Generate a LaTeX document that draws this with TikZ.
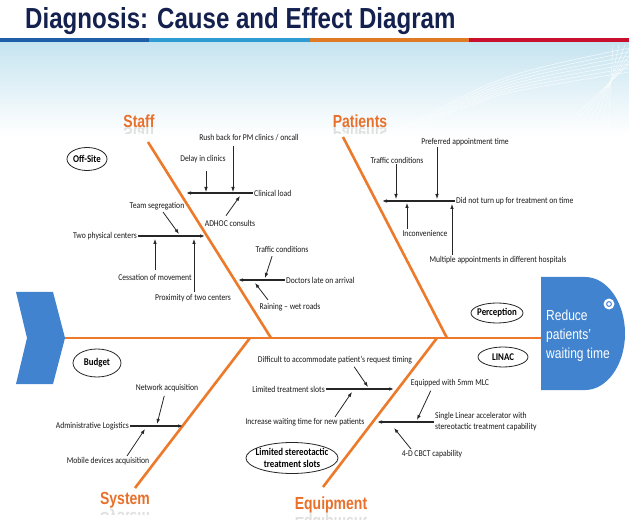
\documentclass[tikz,border=0pt]{standalone}
\usepackage{fontspec}
\usetikzlibrary{arrows.meta,shapes.geometric}
\newfontfamily\smallf{Carlito}[FakeStretch=0.86]
\newfontfamily\headf{Liberation Sans}[FakeStretch=0.83]
\newfontfamily\catf{Liberation Sans}[FakeStretch=0.8]
\newfontfamily\titlef{Liberation Sans}[FakeStretch=0.83]
\definecolor{navy}{HTML}{14214F}
\definecolor{stripeA}{HTML}{1F5FA8}
\definecolor{stripeB}{HTML}{2E9BD2}
\definecolor{stripeC}{HTML}{E07A25}
\definecolor{stripeD}{HTML}{C8102E}
\definecolor{bonecol}{HTML}{EC7A2A}
\definecolor{catcol}{HTML}{E8702A}
\definecolor{blueshape}{HTML}{4183CF}
\definecolor{bgblue}{HTML}{C6E4F0}
\newcommand\reflectlabel[2]{%
  \begin{scope}
    \clip (#1.south west) rectangle ([yshift=-6pt]#1.south east);
    \node[cat, text=black!12, anchor=north] at (#1.south) {\scalebox{1}[-1]{#2}};
  \end{scope}}
\tikzset{
  cause/.style={font=\smallf\fontsize{8.9}{11}\selectfont, inner sep=1pt, text=black!90},
  oval/.style={ellipse, draw=black!85, line width=0.8pt, inner xsep=-4pt, inner ysep=-1pt,
    font=\smallf\bfseries\fontsize{10.3}{11.5}\selectfont},
  cat/.style={font=\catf\bfseries\fontsize{17.5}{18}\selectfont, text=catcol, inner sep=0pt},
  bonestyle/.style={draw=bonecol, line width=2.6pt},
  arr/.style={-{Latex[length=5pt,width=3.6pt]}, line width=0.8pt, draw=black!85},
  hline/.style={arr, line width=1.1pt}
}
\begin{document}
\begin{tikzpicture}[x=1pt,y=-1pt]
\useasboundingbox (0,0) rectangle (629,529);
\fill[white] (0,0) rectangle (629,529);
% background band
\shade[top color=bgblue, bottom color=white] (0,42) rectangle (629,135);
\foreach \k in {0,...,6}{
  \draw[white, opacity=0.8, line width=0.5pt] (400+12*\k,130-4*\k) .. controls (500,75+3*\k) .. (629,48+4*\k);
  \draw[white, opacity=0.7, line width=0.5pt] (560+8*\k,130) -- (629-6*\k+20,45);
}
% stripe
\fill[stripeA] (0,38) rectangle (149,42);
\fill[stripeB] (149,38) rectangle (310,42);
\fill[stripeC] (310,38) rectangle (469,42);
\fill[stripeD] (469,38) rectangle (629,42);
% title
\node[anchor=base west, font=\titlef\bfseries\fontsize{29}{30}\selectfont, text=navy, inner sep=0pt] (title) at (25,28.5) {Diagnosis: Cause and Effect Diagram};

% tail chevron and head
\fill[blueshape] (16,292) -- (53,292) -- (65,338) -- (53,384) -- (16,384) -- (27,338) -- cycle;
\coordinate (chevtip) at (65,338);
\fill[blueshape] (541,277) -- (585,277) arc[start angle=-90, end angle=90, x radius=40, y radius=56.5] -- (541,390) -- cycle;
\coordinate (headW) at (541,338);
\fill[white] (609,304) circle (5.5);
\draw[blueshape, line width=1pt] (609,304) circle (2.4);
\node[anchor=base west, align=left, font=\headf\fontsize{14.5}{19}\selectfont, text=white, inner sep=0pt] (goal) at (546,358) {Reduce\\patients’\\waiting time};

% bones
\coordinate (staffA) at (148,142); \coordinate (staffB) at (271,338);
\coordinate (patA) at (343,137);   \coordinate (patB) at (447,338);
\coordinate (sysA) at (250,338);   \coordinate (sysB) at (135,488);
\coordinate (eqA) at (437,338);    \coordinate (eqB) at (323,487);
\draw[bonestyle] (chevtip) -- (headW);
\draw[bonestyle] (staffA) -- (staffB);
\draw[bonestyle] (patA) -- (patB);
\draw[bonestyle] (sysA) -- (sysB);
\draw[bonestyle] (eqA) -- (eqB);

% category labels
\node[cat] (staff) at (139,121) {Staff};
\node[cat] (patients) at (360,121) {Patients};
\node[cat] (system) at (125,500.5) {System};
\node[cat] (equipment) at (331,505) {Equipment};
\reflectlabel{staff}{Staff}
\reflectlabel{patients}{Patients}
\reflectlabel{system}{System}
\reflectlabel{equipment}{Equipment}

% ovals
\node[oval, minimum width=40pt, minimum height=23pt] (offsite) at (87,159) {Off-Site};
\node[oval, minimum width=52pt, minimum height=20pt] (perc) at (497,313) {Perception};
\node[oval, minimum width=50pt, minimum height=20pt] (linac) at (503,357) {LINAC};
\node[oval, minimum width=48pt, minimum height=28pt] (budget) at (97,363) {Budget};
\node[oval, minimum width=92pt, minimum height=31pt, align=center] (lss) at (292,458) {Limited stereotactic\\treatment slots};

% ---- Staff causes
\node[cause] (rush) at (249,138) {Rush back for PM clinics / oncall};
\node[cause] (delay) at (203,159) {Delay in clinics};
\node[cause, anchor=west] (clin) at (253,193) {Clinical load};
\node[cause] (adhoc) at (230,223) {ADHOC consults};
\node[cause] (team) at (157,206) {Team segregation};
\node[cause, anchor=east] (two) at (138,236) {Two physical centers};
\node[cause] (cess) at (155,277) {Cessation of movement};
\node[cause] (prox) at (193,298) {Proximity of two centers};
\node[cause] (traf1) at (282,249) {Traffic conditions};
\node[cause, anchor=west] (doc) at (285,280) {Doctors late on arrival};
\node[cause] (rain) at (290,307) {Raining – wet roads};
\coordinate (clinT) at (186,193);
\coordinate (rushT) at (233,192);
\coordinate (delayT) at (206,192);
\coordinate (adhocT) at (240,196);
\coordinate (teamT) at (179,234);
\coordinate (twoT) at (205,236);
\coordinate (cessT) at (155,239);
\coordinate (proxT) at (194,239);
\coordinate (docT) at (238,280);
\coordinate (traf1T) at (265,278);
\coordinate (rainT) at (255,283);
\draw[hline] (clin.west) -- (clinT);
\draw[arr, shorten <=4pt] (rush.south -| rushT) -- (rushT);
\draw[arr, shorten <=7pt] (delay.south -| delayT) -- (delayT);
\draw[arr] ([xshift=-4pt,yshift=3pt]adhoc.north) -- (adhocT);
\draw[arr] ([xshift=6pt,yshift=-1pt]team.south) -- (teamT);
\draw[hline] (two.east) -- (twoT);
\draw[arr, shorten <=3pt] (cess.north -| cessT) -- (cessT);
\draw[arr, shorten <=1pt] (prox.north -| proxT) -- (proxT);
\draw[hline] (doc.west) -- (docT);
\draw[arr, shorten <=3pt] ([xshift=-9pt]traf1.south) -- (traf1T);
\draw[arr] ([xshift=-22pt,yshift=2pt]rain.north) -- (rainT);

% ---- Patients causes
\node[cause] (pref) at (465,142) {Preferred appointment time};
\node[cause] (traf2) at (397,160) {Traffic conditions};
\node[cause, anchor=west] (didnot) at (455,201) {Did not turn up for treatment on time};
\node[cause] (incon) at (425,233) {Inconvenience};
\node[cause] (multi) at (498,260) {Multiple appointments in different hospitals};
\coordinate (prefT) at (437,199);
\coordinate (traf2T) at (396,199);
\coordinate (didT) at (382,201);
\coordinate (inconT) at (407,203);
\coordinate (multiT) at (452,204);
\draw[hline] (didnot.west) -- (didT);
\draw[arr] (pref.south -| prefT) -- (prefT);
\draw[arr] (traf2.south -| traf2T) -- (traf2T);
\draw[arr] (incon.north -| inconT) -- (inconT);
\draw[arr] (multi.north -| multiT) -- (multiT);

% ---- System causes
\node[cause] (net) at (167,388) {Network acquisition};
\node[cause, anchor=east] (admin) at (130,426) {Administrative Logistics};
\node[cause] (mobile) at (108,461) {Mobile devices acquisition};
\coordinate (netT) at (157,424);
\coordinate (adminT) at (183,426);
\coordinate (mobileT) at (145,429);
\draw[hline] (admin.east) -- (adminT);
\draw[arr, shorten <=3pt] ([xshift=-2pt]net.south) -- (netT);
\draw[arr] ([xshift=19pt]mobile.north) -- (mobileT);

% ---- Equipment causes
\node[cause] (diff) at (335,360) {Difficult to accommodate patient’s request timing};
\node[cause, anchor=east] (lts) at (326,389) {Limited treatment slots};
\node[cause] (incr) at (305,422) {Increase waiting time for new patients};
\node[cause] (equip5) at (450,383) {Equipped with 5mm MLC};
\node[cause, anchor=west, align=left] (single) at (434,422) {Single Linear accelerator with\\stereotactic treatment capability};
\node[cause] (cbct) at (432,454) {4-D CBCT capability};
\coordinate (diffT) at (368,387);
\coordinate (ltsT) at (394,389);
\coordinate (incrT) at (352,392);
\coordinate (equipT) at (417,420);
\coordinate (singleT) at (377,422);
\coordinate (cbctT) at (394,428);
\draw[hline] (lts.east) -- (ltsT);
\draw[hline] (single.west) -- (singleT);
\draw[arr, shorten <=2pt] ([xshift=18pt]diff.south) -- (diffT);
\draw[arr] ([xshift=30pt]incr.north) -- (incrT);
\draw[arr, shorten <=3pt] ([xshift=-18pt]equip5.south) -- (equipT);
\draw[arr] ([xshift=-21pt]cbct.north) -- (cbctT);
\end{tikzpicture}
\end{document}
